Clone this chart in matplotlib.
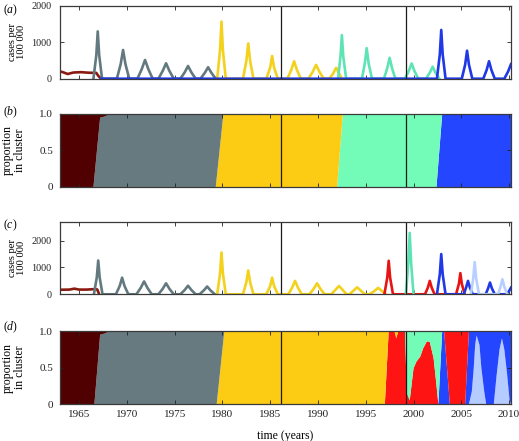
import matplotlib
matplotlib.use("Agg")
import matplotlib.pyplot as plt

plt.rcParams['font.family'] = 'serif'
plt.rcParams['font.serif'] = ['Liberation Serif', 'DejaVu Serif']
plt.rcParams['mathtext.fontset'] = 'custom'
plt.rcParams['mathtext.it'] = 'Liberation Serif:italic'
plt.rcParams['mathtext.rm'] = 'Liberation Serif'

# Colours of the antigenic clusters
c_darkred = '#500000'
c_gray = '#667a80'
c_yellow = '#fccc14'
c_teal = '#72fcb8'
c_blue = '#2446ff'
c_red = '#ff1414'
c_lightblue = '#b4ccff'

line_darkred = '#8a1a10'
line_gray = '#62797f'
line_yellow = '#f2d21c'
line_teal = '#5ee4b4'
line_blue = '#2038e6'
line_red = '#e81414'
line_lightblue = '#b8d0ff'

# Panel (a): cases per 100 000, one curve per cluster
darkred_a_t = [1963.0, 1963.3, 1963.8, 1964.4, 1965.2, 1966.0, 1966.8, 1967.0, 1967.3]
darkred_a_y = [200, 180, 130, 170, 180, 165, 160, 80, 0]

gray_a_t = [1966.5, 1966.8, 1966.95, 1967.1, 1967.4,
            1968.95, 1969.35, 1969.6, 1969.85, 1970.25,
            1971.1, 1971.55, 1971.9, 1972.25, 1972.7,
            1973.3, 1973.75, 1974.1, 1974.45, 1974.9,
            1975.6, 1976.05, 1976.4, 1976.75, 1977.2,
            1977.7, 1978.15, 1978.5, 1978.85, 1979.3]
gray_a_y = [0, 650, 1300, 650, 0,
            0, 400, 790, 400, 0,
            0, 260, 515, 260, 0,
            0, 215, 425, 215, 0,
            0, 175, 350, 175, 0,
            0, 160, 315, 160, 0]

yellow_a_t = [1979.45, 1979.75, 1979.9, 1980.05, 1980.35,
              1982.15, 1982.5, 1982.7, 1982.9, 1983.25,
              1984.6, 1985.0, 1985.2, 1985.4, 1985.8,
              1986.8, 1987.2, 1987.5, 1987.8, 1988.2,
              1989.0, 1989.45, 1989.8, 1990.15, 1990.6,
              1991.2, 1991.6, 1991.9, 1992.2, 1992.5]
yellow_a_y = [0, 780, 1570, 780, 0,
              0, 480, 970, 480, 0,
              0, 310, 625, 310, 0,
              0, 240, 480, 240, 0,
              0, 190, 380, 190, 0,
              0, 150, 300, 150, 0]

teal_a_t = [1992.1, 1992.35, 1992.5, 1992.65, 1992.95,
            1994.6, 1994.9, 1995.1, 1995.3, 1995.65,
            1996.9, 1997.25, 1997.5, 1997.75, 1998.1,
            1999.1, 1999.5, 1999.8, 2000.1, 2000.5,
            2001.3, 2001.7, 2002.0, 2002.3, 2002.7]
teal_a_y = [0, 600, 1200, 600, 0,
            0, 420, 840, 420, 0,
            0, 290, 575, 290, 0,
            0, 210, 420, 210, 0,
            0, 165, 330, 165, 0]

blue_a_t = [1967.3, 2002.45, 2002.75, 2002.9, 2003.05, 2003.35,
            2005.05, 2005.4, 2005.6, 2005.8, 2006.15,
            2007.3, 2007.65, 2007.9, 2008.15, 2008.5,
            2009.5, 2009.9, 2010.2]
blue_a_y = [0, 0, 670, 1340, 670, 0,
            0, 385, 770, 385, 0,
            0, 240, 480, 240, 0,
            0, 200, 400]

# Panel (b): proportion in cluster
t_b = [1963.0, 1966.5, 1967.2, 1967.8, 1968.1, 1979.3, 1980.1, 1992.0, 1992.6, 2002.4, 2003.0, 2010.2]
darkred_b = [1, 1, 0.05, 0.03, 0, 0, 0, 0, 0, 0, 0, 0]
gray_b = [0, 0, 0.95, 0.97, 1, 1, 0, 0, 0, 0, 0, 0]
yellow_b = [0, 0, 0, 0, 0, 0, 1, 1, 0, 0, 0, 0]
teal_b = [0, 0, 0, 0, 0, 0, 0, 0, 1, 1, 0, 0]
blue_b = [0, 0, 0, 0, 0, 0, 0, 0, 0, 0, 1, 1]

# Panel (c): cases per 100 000 with the newer clusters
darkred_c_t = [1963.0, 1964.0, 1964.5, 1965.0, 1965.8, 1966.5, 1966.9, 1967.1]
darkred_c_y = [170, 175, 210, 175, 175, 190, 180, 0]

gray_c_t = [1966.55, 1966.85, 1967.0, 1967.15, 1967.45,
            1968.85, 1969.25, 1969.5, 1969.75, 1970.15,
            1971.0, 1971.45, 1971.8, 1972.15, 1972.6,
            1973.3, 1973.75, 1974.1, 1974.45, 1974.9,
            1975.6, 1976.05, 1976.4, 1976.75, 1977.2,
            1977.6, 1978.05, 1978.4, 1978.75, 1979.2]
gray_c_y = [0, 630, 1260, 630, 0,
            0, 310, 620, 310, 0,
            0, 240, 480, 240, 0,
            0, 205, 410, 205, 0,
            0, 160, 320, 160, 0,
            0, 145, 290, 145, 0]

yellow_c_t = [1979.45, 1979.75, 1979.9, 1980.05, 1980.35,
              1982.15, 1982.5, 1982.7, 1982.9, 1983.25,
              1984.6, 1985.0, 1985.2, 1985.4, 1985.8,
              1986.9, 1987.3, 1987.6, 1987.9, 1988.3,
              1989.1, 1989.55, 1989.9, 1990.25, 1990.7,
              1991.4, 1991.8, 1992.2, 1992.6, 1993.0,
              1993.3, 1993.7, 1994.1, 1994.5, 1994.9,
              1995.4, 1995.9, 1996.3, 1996.7, 1997.1]
yellow_c_y = [0, 780, 1560, 780, 0,
              0, 445, 890, 445, 0,
              0, 310, 620, 310, 0,
              0, 250, 500, 250, 0,
              0, 205, 410, 205, 0,
              0, 155, 310, 155, 0,
              0, 130, 260, 130, 0,
              0, 120, 240, 120, 0]

red_c_t = [1996.95, 1997.25, 1997.4, 1997.55, 1997.85,
           2001.2, 2001.5, 2001.7, 2001.9, 2002.2,
           2004.45, 2004.75, 2004.9, 2005.05, 2005.35]
red_c_y = [0, 620, 1250, 620, 0,
           0, 250, 500, 250, 0,
           0, 395, 790, 395, 0]

teal_c_t = [1999.2, 1999.45, 1999.6, 1999.75, 2000.0]
teal_c_y = [0, 1150, 2290, 1150, 0]

blue_c_t = [2002.45, 2002.75, 2002.9, 2003.05, 2003.35,
            2005.25, 2005.5, 2005.7, 2005.9, 2006.2,
            2007.55, 2007.8, 2008.0, 2008.2, 2008.5,
            2009.7, 2010.0, 2010.2]
blue_c_y = [0, 750, 1500, 750, 0,
            0, 250, 500, 250, 0,
            0, 220, 440, 220, 0,
            0, 120, 250]

lightblue_c_t = [2006.0, 2006.25, 2006.4, 2006.55, 2006.85,
                 2008.85, 2009.1, 2009.3, 2009.5, 2009.8]
lightblue_c_y = [0, 600, 1200, 600, 0,
                 0, 280, 560, 280, 0]

# Panel (d): proportion in cluster
t_d = [1963.0, 1966.6, 1967.2, 1967.8, 1968.1,
       1979.4, 1980.2,
       1997.0, 1997.4, 1998.0, 1998.2, 1998.4, 1999.1,
       1999.3, 1999.6, 2000.0, 2000.3, 2000.7, 2001.0, 2001.4, 2001.7, 2002.1, 2002.4, 2002.6,
       2003.0, 2003.2, 2003.8, 2005.4, 2005.8,
       2006.1, 2006.3, 2006.45, 2006.6, 2006.9, 2007.1, 2007.4, 2007.6,
       2008.4, 2008.7, 2009.0, 2009.25, 2009.5, 2009.8, 2010.05, 2010.2]
darkred_d = [1, 1, 0.05, 0.03, 0,
             0, 0,
             0, 0, 0, 0, 0, 0,
             0, 0, 0, 0, 0, 0, 0, 0, 0, 0, 0,
             0, 0, 0, 0, 0,
             0, 0, 0, 0, 0, 0, 0, 0,
             0, 0, 0, 0, 0, 0, 0, 0]
gray_d = [0, 0, 0.95, 0.97, 1,
          1, 0,
          0, 0, 0, 0, 0, 0,
          0, 0, 0, 0, 0, 0, 0, 0, 0, 0, 0,
          0, 0, 0, 0, 0,
          0, 0, 0, 0, 0, 0, 0, 0,
          0, 0, 0, 0, 0, 0, 0, 0]
yellow_d = [0, 0, 0, 0, 0,
            0, 1,
            1, 0, 0, 0.1, 0, 0,
            0, 0, 0, 0, 0, 0, 0, 0, 0, 0, 0,
            0, 0, 0, 0, 0,
            0, 0, 0, 0, 0, 0, 0, 0,
            0, 0, 0, 0, 0, 0, 0, 0]
teal_d = [0, 0, 0, 0, 0,
          0, 0,
          0, 0, 0, 0, 0, 0,
          0.85, 0.95, 0.51, 0.42, 0.35, 0.24, 0.14, 0.15, 0.37, 0.74, 1,
          0, 0, 0, 0, 0,
          0, 0, 0, 0, 0, 0, 0, 0,
          0, 0, 0, 0, 0, 0, 0, 0]
red_d = [0, 0, 0, 0, 0,
         0, 0,
         0, 1, 1, 0.9, 1, 1,
         0.15, 0.05, 0.49, 0.58, 0.65, 0.76, 0.86, 0.85, 0.63, 0.26, 0,
         0, 0, 1, 1, 0,
         0, 0, 0, 0, 0, 0, 0, 0,
         0, 0, 0, 0, 0, 0, 0, 0]
blue_d = [0, 0, 0, 0, 0,
          0, 0,
          0, 0, 0, 0, 0, 0,
          0, 0, 0, 0, 0, 0, 0, 0, 0, 0, 0,
          1, 1, 0, 0, 1,
          0.83, 0.51, 0.19, 0.06, 0.19, 0.51, 0.83, 1,
          1, 0.6, 0.25, 0.1, 0.25, 0.6, 0.95, 1]
lightblue_d = [0, 0, 0, 0, 0,
               0, 0,
               0, 0, 0, 0, 0, 0,
               0, 0, 0, 0, 0, 0, 0, 0, 0, 0, 0,
               0, 0, 0, 0, 0,
               0.17, 0.49, 0.81, 0.94, 0.81, 0.49, 0.17, 0,
               0, 0.4, 0.75, 0.9, 0.75, 0.4, 0.05, 0]

# Years of the vertical marker lines
marker_years = [1986.13, 1999.18]
year_ticks = [1965, 1970, 1975, 1980, 1985, 1990, 1995, 2000, 2005, 2010]

fig = plt.figure(figsize=(5.19, 4.41), dpi=100)
left, width = 60 / 519, 451 / 519
ax_a = fig.add_axes([left, 0.8215, width, 0.165])
ax_b = fig.add_axes([left, 0.576, width, 0.1655])
ax_c = fig.add_axes([left, 0.3327, width, 0.164])
ax_d = fig.add_axes([left, 0.0839, width, 0.1655])

lw = 1.9
ax_a.plot(darkred_a_t, darkred_a_y, color=line_darkred, lw=lw)
ax_a.plot(gray_a_t, gray_a_y, color=line_gray, lw=lw)
ax_a.plot(yellow_a_t, yellow_a_y, color=line_yellow, lw=lw)
ax_a.plot(teal_a_t, teal_a_y, color=line_teal, lw=lw)
ax_a.plot(blue_a_t, blue_a_y, color=line_blue, lw=lw)
ax_a.set_ylim(0, 2000)
ax_a.set_yticks([0, 1000, 2000])

ax_b.stackplot(t_b, blue_b, teal_b, yellow_b, gray_b, darkred_b,
               colors=[c_blue, c_teal, c_yellow, c_gray, c_darkred], lw=0)
ax_b.set_ylim(0, 1)
ax_b.set_yticks([0, 0.5, 1.0])
ax_b.set_yticklabels(['0', '0.5', '1.0'])

ax_c.plot(darkred_c_t, darkred_c_y, color=line_darkred, lw=lw)
ax_c.plot(gray_c_t, gray_c_y, color=line_gray, lw=lw)
ax_c.plot(yellow_c_t, yellow_c_y, color=line_yellow, lw=lw)
ax_c.plot(red_c_t, red_c_y, color=line_red, lw=lw)
ax_c.plot(teal_c_t, teal_c_y, color=line_teal, lw=lw)
ax_c.plot(blue_c_t, blue_c_y, color=line_blue, lw=lw)
ax_c.plot(lightblue_c_t, lightblue_c_y, color=line_lightblue, lw=lw)
ax_c.set_ylim(0, 2700)
ax_c.set_yticks([0, 1000, 2000])

ax_d.stackplot(t_d, lightblue_d, blue_d, red_d, teal_d, yellow_d, gray_d, darkred_d,
               colors=[c_lightblue, c_blue, c_red, c_teal, c_yellow, c_gray, c_darkred], lw=0)
ax_d.set_ylim(0, 1)
ax_d.set_yticks([0, 0.5, 1.0])
ax_d.set_yticklabels(['0', '0.5', '1.0'])

# panel letters, placed by pixel row from the top
letter_rows = [10, 112, 225, 327]
for ax, letter, row in zip([ax_a, ax_b, ax_c, ax_d], 'abcd', letter_rows):
    ax.set_xlim(1963.0, 2010.2)
    ax.set_xticks(year_ticks)
    for yr in marker_years:
        ax.axvline(yr, color='#1a1a1a', lw=0.9)
    ax.tick_params(direction='in', length=3, width=0.6, top=True, right=True,
                   labelsize=8, colors='#222222')
    ax.tick_params(axis='y', pad=5)
    ax.tick_params(axis='x', pad=4)
    for sp in ax.spines.values():
        sp.set_color('#3a3a3a')
        sp.set_linewidth(0.9)
    if ax is not ax_d:
        ax.tick_params(labelbottom=False)
    fig.text(3 / 519, 1 - row / 441, '($%s$)' % letter, fontsize=8.5, va='center', ha='left')

for ax in [ax_a, ax_c]:
    ax.set_ylabel('cases per\n100 000', fontsize=7.6, linespacing=1.05)
    ax.tick_params(axis='y', labelsize=7.3, pad=6)
for ax in [ax_b, ax_d]:
    ax.set_ylabel('proportion\nin cluster', fontsize=8.5, linespacing=1.0)
for ax in [ax_a, ax_b, ax_c, ax_d]:
    ax.yaxis.set_label_coords(-0.075, 0.5)

ax_d.set_xticklabels([str(y) for y in year_ticks])
ax_d.set_xlabel('time (years)', fontsize=8.5, labelpad=8)

plt.savefig('out.png', dpi=100)
